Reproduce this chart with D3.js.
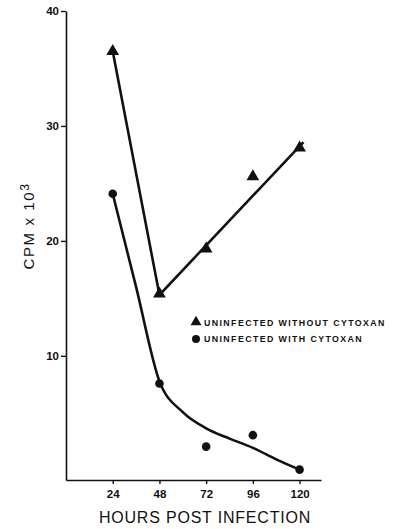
<!DOCTYPE html>
<html>
<head>
<meta charset="utf-8">
<script src="https://cdn.jsdelivr.net/npm/d3@7"></script>
<style>
  body { margin: 0; background: #fff; }
  svg { display: block; font-family: "Liberation Sans", Arial, sans-serif; }
</style>
</head>
<body>
<div id="chart"></div>
<script>
// hours post infection
const hours = [24, 48, 72, 96, 120];
const xTicks = [24, 48, 72, 96, 120];
const yTicks = [10, 20, 30, 40];

// measured points
const withoutCytoxan = [36.5, 15.4, 19.3, 25.6, 28.1];
const withCytoxan = [24.1, 7.6, 2.1, 3.1, 0.1];

// hand drawn fit lines
const withoutFitHours = [24, 48, 122];
const withoutFitValues = [36.5, 15.3, 28.6];
const withFitHours = [24, 36, 48, 60, 72, 84, 96, 108, 120];
const withFitValues = [24.1, 16.0, 7.8, 5.1, 3.7, 2.8, 2.0, 1.0, 0.1];

const seriesNames = ["UNINFECTED WITHOUT CYTOXAN", "UNINFECTED WITH CYTOXAN"];

const width = 395, height = 529;

const svg = d3.select("#chart").append("svg")
  .attr("width", width)
  .attr("height", height);

const x = d3.scaleLinear().domain([0, 131]).range([66, 321]);
const y = d3.scaleLinear().domain([-0.8, 40]).range([480, 11]);

// axes
const xAxis = svg.append("g")
  .attr("transform", `translate(0,${y(-0.8)})`)
  .call(d3.axisBottom(x).tickValues(xTicks).tickSize(4).tickSizeOuter(0));
const yAxis = svg.append("g")
  .attr("transform", `translate(${x(0)},0)`)
  .call(d3.axisLeft(y).tickValues(yTicks).tickSize(5).tickSizeOuter(0));

[xAxis, yAxis].forEach(a => {
  a.select(".domain").attr("stroke", "#111").attr("stroke-width", 1.6);
  a.selectAll(".tick line").attr("stroke", "#111").attr("stroke-width", 1.4);
  a.selectAll("text").attr("fill", "#111").style("font-size", "11.5px").style("font-weight", "bold");
});
xAxis.selectAll("text").attr("dy", "0.95em");
yAxis.selectAll("text").attr("x", -7);

// axis titles
svg.append("text")
  .attr("x", 205).attr("y", 523)
  .attr("text-anchor", "middle")
  .style("font-size", "16px")
  .style("letter-spacing", "0.8px")
  .attr("fill", "#111")
  .text("HOURS POST INFECTION");

const yTitle = svg.append("text")
  .attr("transform", "translate(34,226) rotate(-90)")
  .attr("text-anchor", "middle")
  .style("font-size", "15px")
  .style("letter-spacing", "1.6px")
  .attr("fill", "#111");
yTitle.append("tspan").text("CPM x 10");
yTitle.append("tspan").attr("dy", "-0.45em").style("font-size", "12px").text("3");

// fit lines
svg.append("path")
  .datum(withoutFitHours.map((h, i) => [h, withoutFitValues[i]]))
  .attr("d", d3.line().x(d => x(d[0])).y(d => y(d[1])))
  .attr("fill", "none").attr("stroke", "#111").attr("stroke-width", 2.6);

svg.append("path")
  .datum(withFitHours.map((h, i) => [h, withFitValues[i]]))
  .attr("d", d3.line().curve(d3.curveMonotoneX).x(d => x(d[0])).y(d => y(d[1])))
  .attr("fill", "none").attr("stroke", "#111").attr("stroke-width", 2.6);

// markers
const tri = d3.symbol().type(d3.symbolTriangle).size(70);
svg.selectAll(".tri")
  .data(hours.map((h, i) => [h, withoutCytoxan[i]]))
  .join("path")
  .attr("class", "tri")
  .attr("transform", d => `translate(${x(d[0])},${y(d[1])})`)
  .attr("d", tri)
  .attr("fill", "#111");

svg.selectAll(".dot")
  .data(hours.map((h, i) => [h, withCytoxan[i]]))
  .join("circle")
  .attr("class", "dot")
  .attr("cx", d => x(d[0]))
  .attr("cy", d => y(d[1]))
  .attr("r", 4.3)
  .attr("fill", "#111");

// legend
const legend = svg.append("g").attr("transform", "translate(196,322)");
legend.append("path")
  .attr("d", d3.symbol().type(d3.symbolTriangle).size(52))
  .attr("fill", "#111");
legend.append("circle")
  .attr("cy", 17).attr("r", 4)
  .attr("fill", "#111");
legend.selectAll("text")
  .data(seriesNames)
  .join("text")
  .attr("x", 8)
  .attr("y", (d, i) => 4 + i * 16)
  .style("font-size", "8.8px")
  .style("font-weight", "bold")
  .style("letter-spacing", "1.4px")
  .attr("fill", "#111")
  .text(d => d);
</script>
</body>
</html>
